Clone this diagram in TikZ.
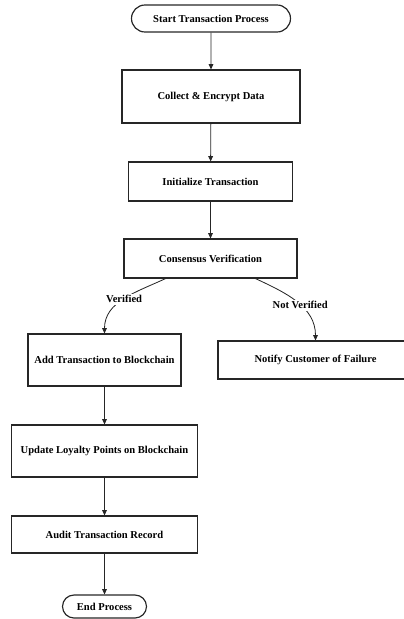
\documentclass[tikz,border=0pt]{standalone}
\usepackage{fontspec}
\setmainfont{Liberation Serif}
\usetikzlibrary{arrows.meta,shapes.misc}

\begin{document}
\begin{tikzpicture}[x=0.03cm,y=0.03cm]
\tikzstyle{every node}+=[font=\fontsize{9}{11}\selectfont\bfseries,inner sep=0pt]
\tikzstyle{box}=[draw=black!85,line width=1pt,rectangle]
\tikzstyle{term}=[draw=black!85,line width=1pt,rounded rectangle]
\tikzstyle{arr}=[draw=black!85,line width=0.7pt,-{Triangle[length=4.5pt,width=4pt]}]
\tikzstyle{lbl}=[fill=white,inner sep=1.5pt]
\useasboundingbox (0,0) rectangle (404,-619);
\node [term,minimum width=4.77cm,minimum height=0.81cm] (start) at (211,-18.5) {Start Transaction Process};
\node [box,minimum width=5.34cm,minimum height=1.59cm] (collect) at (211,-96.5) {Collect \& Encrypt Data};
\node [box,minimum width=4.92cm,minimum height=1.17cm] (init) at (210.5,-181.5) {Initialize Transaction};
\node [box,minimum width=5.19cm,minimum height=1.17cm] (consensus) at (210.5,-258.5) {Consensus Verification};
\node [box,minimum width=4.59cm,minimum height=1.56cm] (addtx) at (104.5,-360) {Add Transaction to Blockchain};
\node [box,minimum width=5.85cm,minimum height=1.14cm] (notify) at (315.5,-360) {Notify Customer of Failure};
\node [box,minimum width=5.58cm,minimum height=1.56cm] (update) at (104.5,-451) {Update Loyalty Points on Blockchain};
\node [box,minimum width=5.58cm,minimum height=1.11cm] (audit) at (104.5,-534.5) {Audit Transaction Record};
\node [term,minimum width=2.52cm,minimum height=0.69cm] (finish) at (104.5,-606.5) {End Process};
\draw [arr] (start) -- (collect);
\draw [arr] (collect) -- (init);
\draw [arr] (init) -- (consensus);
\draw [arr] ([xshift=-1.35cm]consensus.south) to [out=-155,in=90] node [lbl,pos=0.5] {Verified} (addtx.north);
\draw [arr] ([xshift=1.35cm]consensus.south) to [out=-25,in=90] node [lbl,pos=0.55] {Not Verified} (notify.north);
\draw [arr] (addtx) -- (update);
\draw [arr] (update) -- (audit);
\draw [arr] (audit) -- (finish);
\end{tikzpicture}
\end{document}
